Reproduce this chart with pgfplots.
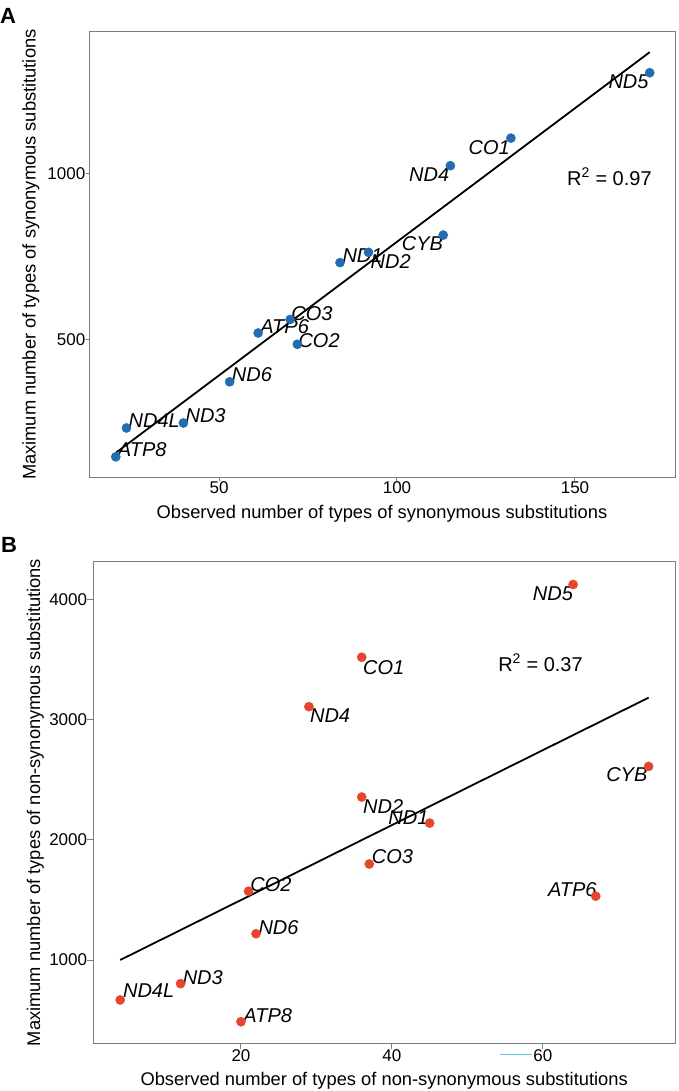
\documentclass[border=0pt]{standalone}
\usepackage{fontspec}
\setmainfont{Liberation Sans}
\usepackage{pgfplots}
\pgfplotsset{compat=1.18}
\definecolor{ptblue}{RGB}{35,108,180}
\definecolor{ptred}{RGB}{229,70,47}
\definecolor{framegray}{RGB}{125,125,125}
\definecolor{strayc}{RGB}{90,200,225}
\pgfplotsset{
  panel/.style={
    scale only axis,
    axis line style={framegray, line width=1pt},
    tick style={framegray, line width=1pt},
    tick align=outside,
    xtick pos=bottom, ytick pos=left,
    minor tick num=0,
    ticklabel style={font=\fontsize{17}{17}\selectfont, inner sep=0pt},
    /pgf/number format/assume math mode=true,
    /pgf/number format/set thousands separator={},
    label style={font=\fontsize{18.3}{18.3}\selectfont, inner sep=0pt},
    clip=false,
  },
}
\tikzset{lbl/.style={font=\fontsize{20}{20}\selectfont\itshape, inner sep=0pt}}
\begin{document}
\begin{tikzpicture}
\useasboundingbox (0pt,0pt) rectangle (678pt,1091pt);
% ---------------- Panel A ----------------
\begin{axis}[panel, at={(89pt,613.3pt)}, anchor=south west,
  width=586pt, height=446pt,
  xmin=13.48, xmax=178.1, ymin=85.2, ymax=1428.6,
  xtick={50,100,150}, ytick={500,1000}, major tick length=3.5pt,
  xlabel={Observed number of types of synonymous substitutions},
  ylabel={Maximum number of types of synonymous substitutions},
  xlabel style={at={(axis description cs:0.5,-0.0926)}, anchor=base},
  ylabel style={at={(axis description cs:-0.0913,0.5)}, anchor=base},
]
\addplot[only marks, mark=*, mark size=4.6pt, mark options={draw=ptblue, fill=ptblue}] coordinates {
 (21,148) (24,235) (40,250) (53,374) (61,521) (70,562) (72,487)
 (84,733) (92,764) (113,816) (115,1025) (132,1108) (171,1305)};
\addplot[black, line width=1.8pt] coordinates {(21,160) (171,1367)};
\node[lbl, anchor=west, xshift=2pt, yshift=7pt] at (axis cs:21,148) {ATP8};
\node[lbl, anchor=west, xshift=2pt, yshift=7pt] at (axis cs:24,235) {ND4L};
\node[lbl, anchor=west, xshift=2pt, yshift=7pt] at (axis cs:40,250) {ND3};
\node[lbl, anchor=west, xshift=2pt, yshift=7pt] at (axis cs:53,374) {ND6};
\node[lbl, anchor=west, xshift=2pt, yshift=6pt] at (axis cs:61,521) {ATP6};
\node[lbl, anchor=west, xshift=1pt, yshift=6pt] at (axis cs:70,562) {CO3};
\node[lbl, anchor=west, xshift=1pt, yshift=4pt] at (axis cs:72,487) {CO2};
\node[lbl, anchor=west, xshift=2.3pt, yshift=6.7pt] at (axis cs:84,733) {ND1};
\node[lbl, anchor=west, xshift=2pt, yshift=-9pt] at (axis cs:92,764) {ND2};
\node[lbl, anchor=east, xshift=0pt, yshift=-9pt] at (axis cs:113,816) {CYB};
\node[lbl, anchor=east, xshift=-1pt, yshift=-9pt] at (axis cs:115,1025) {ND4};
\node[lbl, anchor=east, xshift=-1pt, yshift=-9pt] at (axis cs:132,1108) {CO1};
\node[lbl, anchor=east, xshift=-1pt, yshift=-9pt] at (axis cs:171,1305) {ND5};
\node[font=\fontsize{20}{20}\selectfont, anchor=base east, inner sep=0pt] at (axis cs:171.6,966) {R\textsuperscript{2} = 0.97};
\end{axis}
% ---------------- Panel B ----------------
\begin{axis}[panel, at={(93.3pt,47.7pt)}, anchor=south west,
  width=581.7pt, height=481.6pt,
  xmin=0.44, xmax=77.5, ymin=306, ymax=4319,
  xtick={20,40,60}, ytick={1000,2000,3000,4000}, major tick length=6pt,
  xlabel={Observed number of types of non-synonymous substitutions},
  ylabel={Maximum number of types of non-synonymous substitutions},
  xlabel style={at={(axis description cs:0.5,-0.0866)}, anchor=base},
  ylabel style={at={(axis description cs:-0.0916,0.5)}, anchor=base},
]
\addplot[only marks, mark=*, mark size=4.6pt, mark options={draw=ptred, fill=ptred}] coordinates {
 (4,667) (12,803) (20,486) (22,1219) (21,1573) (29,3111) (36,3523)
 (64,4129) (74,2613) (36,2358) (45,2141) (37,1800) (67,1532)};
\addplot[black, line width=1.8pt] coordinates {(4,1000) (74,3186)};
\node[lbl, anchor=west, xshift=2.7pt, yshift=9pt] at (axis cs:4,667) {ND4L};
\node[lbl, anchor=west, xshift=2pt, yshift=6pt] at (axis cs:12,803) {ND3};
\node[lbl, anchor=west, xshift=2.3pt, yshift=6pt] at (axis cs:20,486) {ATP8};
\node[lbl, anchor=west, xshift=2.3pt, yshift=6pt] at (axis cs:22,1219) {ND6};
\node[lbl, anchor=west, xshift=1.7pt, yshift=6.5pt] at (axis cs:21,1573) {CO2};
\node[lbl, anchor=west, xshift=1pt, yshift=-9.3pt] at (axis cs:29,3111) {ND4};
\node[lbl, anchor=west, xshift=1.3pt, yshift=-10pt] at (axis cs:36,3523) {CO1};
\node[lbl, anchor=east, xshift=0pt, yshift=-9.3pt] at (axis cs:64,4129) {ND5};
\node[lbl, anchor=east, xshift=-1pt, yshift=-8.5pt] at (axis cs:74,2613) {CYB};
\node[lbl, anchor=west, xshift=1.3pt, yshift=-9pt] at (axis cs:36,2358) {ND2};
\node[lbl, anchor=east, xshift=-1pt, yshift=5pt] at (axis cs:45,2141) {ND1};
\node[lbl, anchor=west, xshift=2.4pt, yshift=7pt] at (axis cs:37,1800) {CO3};
\node[lbl, anchor=east, xshift=1pt, yshift=7pt] at (axis cs:67,1532) {ATP6};
\node[font=\fontsize{20}{20}\selectfont, anchor=base east, inner sep=0pt] at (axis cs:65.3,3404) {R\textsuperscript{2} = 0.37};
\end{axis}
\node[anchor=base west, inner sep=0pt, font=\fontsize{22}{22}\selectfont\bfseries] at (0pt,1067pt) {A};
\node[anchor=base west, inner sep=0pt, font=\fontsize{22}{22}\selectfont\bfseries] at (1pt,538pt) {B};
\draw[strayc, line width=0.8pt] (500pt,37pt) -- (531.7pt,37pt);
\end{tikzpicture}
\end{document}
